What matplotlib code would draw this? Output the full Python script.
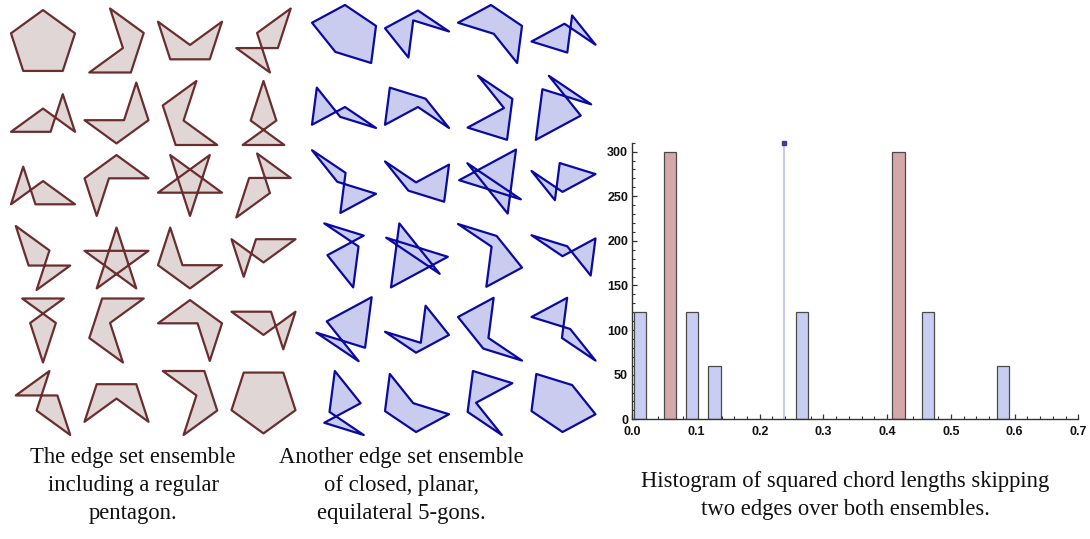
import numpy as np
import matplotlib
matplotlib.use("Agg")
import matplotlib.pyplot as plt
from matplotlib.patches import Polygon
from matplotlib.ticker import MultipleLocator

W, H = 1090, 539

# edge directions (degrees) of the two equilateral 5-gons
red_edge_angles = [0, 72, 144, 216, 288]
blue_edge_angles = [146.0, 208.3, 308.7, 342.8, 82.6]

# edge orderings (edge 0 first, then these), one per polygon, row by row
orders = [
    "1234", "1243", "1324", "1342", "1423", "1432",
    "2134", "2143", "2314", "2341", "2413", "2431",
    "3124", "3142", "3214", "3241", "3412", "3421",
    "4123", "4132", "4213", "4231", "4312", "4321",
]

# histogram of squared chord lengths
bin_width = 0.0195
blue_centers = [0.012, 0.094, 0.129, 0.266, 0.464, 0.582]
blue_counts = [120, 120, 60, 120, 120, 60]
red_centers = [0.059, 0.418]
red_counts = [300, 300]
spike_x = 0.238
spike_count = 600  # runs off the top of the plot

captions = [
    (133, [463.5, 491.5, 519.5],
     ["The edge set ensemble", "including a regular", "pentagon."]),
    (401, [463.5, 491.5, 519.5],
     ["Another edge set ensemble", "of closed, planar,", "equilateral 5-gons."]),
    (845, [487.5, 515.5],
     ["Histogram of squared chord lengths skipping", "two edges over both ensembles."]),
]

RED_EDGE, RED_FILL = "#6b2e2e", "#e0d6d6"
BLUE_EDGE, BLUE_FILL = "#0a0aa0", "#c9ccef"


def polygon_vertices(angles, order):
    seq = [0] + [int(ch) for ch in order]
    a = np.radians(np.asarray(angles, dtype=float)[seq])
    steps = np.column_stack([np.cos(a), np.sin(a)])
    return np.vstack([[0.0, 0.0], np.cumsum(steps, axis=0)[:-1]])


def draw_grid(fig, angles, col_x, row_y0, row_dy, edge, fill, box=64):
    for i, order in enumerate(orders):
        cx = col_x[i % 4]
        cy = row_y0 + row_dy * (i // 4)
        ax = fig.add_axes([(cx - box / 2) / W, 1 - (cy + box / 2) / H, box / W, box / H])
        ax.axis("off")
        v = polygon_vertices(angles, order)
        ax.add_patch(Polygon(v, closed=True, fc=fill, ec=edge, lw=1.6,
                             joinstyle="round", clip_on=False))
        lo, hi = v.min(axis=0), v.max(axis=0)
        mid = (lo + hi) / 2
        span = (hi - lo).max() / 2
        ax.set_xlim(mid[0] - span, mid[0] + span)
        ax.set_ylim(mid[1] - span, mid[1] + span)


fig = plt.figure(figsize=(W / 100, H / 100), dpi=100)

draw_grid(fig, red_edge_angles, [43, 116.5, 190, 263.5], 40.5, 72.5, RED_EDGE, RED_FILL)
draw_grid(fig, blue_edge_angles, [344, 417, 490, 563.5], 34, 73.8, BLUE_EDGE, BLUE_FILL)

# histogram
ax = fig.add_axes([632.3 / W, 1 - 419.3 / H, 446 / W, 276.6 / H])
ax.bar(blue_centers, blue_counts, width=bin_width, color="#c8cef2",
       edgecolor="#4a4a4a", linewidth=0.9, zorder=2)
ax.bar(red_centers, red_counts, width=bin_width, color="#d4a8a8",
       edgecolor="#4a4a4a", linewidth=0.9, zorder=2)
ax.bar([spike_x], [spike_count], width=0.0028, color="#c6caee",
       linewidth=0, zorder=2)
ax.set_xlim(0, 0.7)
ax.set_ylim(0, 310)
ax.plot([spike_x], [310], "s", color="#3a3aa0", ms=3.2, clip_on=False, zorder=5)

for side in ["top", "right"]:
    ax.spines[side].set_visible(False)
for side in ["left", "bottom"]:
    ax.spines[side].set_color("#333333")
    ax.spines[side].set_linewidth(1.0)
    ax.spines[side].set_zorder(3)

ax.xaxis.set_major_locator(MultipleLocator(0.1))
ax.xaxis.set_minor_locator(MultipleLocator(0.02))
ax.yaxis.set_major_locator(MultipleLocator(50))
ax.yaxis.set_minor_locator(MultipleLocator(10))
ax.set_xticks(np.arange(0, 0.71, 0.1))
ax.set_xticklabels([f"{t:.1f}" for t in np.arange(0, 0.71, 0.1)])
ax.tick_params(which="both", direction="in", color="#333333")
ax.tick_params(which="major", length=3.6, width=0.9)
ax.tick_params(axis="x", which="major", pad=4.5)
ax.tick_params(axis="y", which="major", pad=3)
ax.tick_params(which="minor", length=1.9, width=0.8)
for lab in ax.get_xticklabels() + ax.get_yticklabels():
    lab.set_fontfamily("Liberation Sans")
    lab.set_fontweight("bold")
    lab.set_fontsize(9)
    lab.set_color("#111111")

# captions
for x, ys, lines in captions:
    for y, line in zip(ys, lines):
        fig.text(x / W, 1 - y / H, line, ha="center", va="baseline",
                 fontsize=16.3, family="Liberation Serif", color="#111111")

fig.savefig("out.png", dpi=100)
